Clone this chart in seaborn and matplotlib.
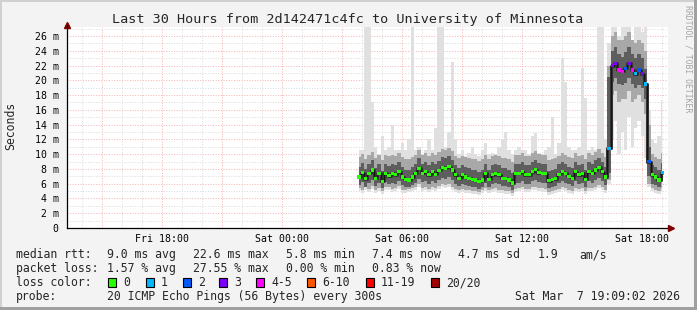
import numpy as np
import pandas as pd
import matplotlib
matplotlib.use("Agg")
import matplotlib.pyplot as plt
import seaborn as sns
from matplotlib.patches import Rectangle
from matplotlib.lines import Line2D
from matplotlib.ticker import MultipleLocator, FixedLocator

# ---------------- data ----------------
title = "Last 30 Hours from 2d142471c4fc to University of Minnesota"
start_minute = 230          # Sat 03:50 (minutes after Sat 00:00)
step_minutes = 10

median_ms = [6.9, 7.5, 6.7, 7.4, 7.85, 6.75, 7.4, 6.3, 7.4, 7.1,
             7.4, 7.2, 7.6, 6.9, 6.6, 6.5, 6.9, 7.4, 8.1, 7.4,
             7.6, 7.2, 7.6, 7.3, 7.8, 8.2, 8.1, 8.3, 7.85, 7.2,
             6.75, 7.2, 6.9, 6.75, 6.6, 6.5, 6.3, 6.5, 7.4, 6.6,
             7.2, 7.4, 7.2, 6.75, 6.75, 6.5, 6.1, 7.4, 7.4, 7.6,
             7.2, 7.2, 7.6, 7.9, 7.5, 7.4, 7.4, 6.4, 6.6, 6.7,
             7.3, 7.6, 7.4, 7.0, 6.75, 7.6, 7.2, 7.4, 6.6, 7.6,
             7.4, 7.85, 8.2, 7.6, 6.9, 10.8, 22.0, 22.3, 21.4, 21.2,
             21.6, 22.3, 21.4, 20.9, 21.4, 20.9, 19.5, 9.0, 7.2, 6.9,
             6.5, 7.5]

lost_pings = [0, 0, 0, 0, 0, 0, 0, 0, 0, 0,
              0, 0, 0, 0, 0, 0, 0, 0, 0, 0,
              0, 0, 0, 0, 0, 0, 0, 0, 0, 0,
              0, 0, 0, 0, 0, 0, 0, 0, 0, 0,
              0, 0, 0, 0, 0, 0, 0, 0, 0, 0,
              0, 0, 0, 0, 0, 0, 0, 0, 0, 0,
              0, 0, 0, 0, 0, 0, 0, 0, 0, 0,
              0, 0, 0, 0, 0, 1, 3, 3, 4, 4,
              2, 3, 4, 1, 2, 3, 1, 2, 0, 0,
              0, 1]

ping_min = [5.0, 4.8, 5.2, 4.9, 5.3, 4.7, 5.0, 4.6, 5.1, 5.2,
            4.9, 5.0, 5.3, 4.8, 4.7, 4.9, 5.0, 5.2, 5.5, 5.0,
            5.1, 4.9, 5.2, 5.0, 5.3, 5.6, 5.4, 5.5, 5.2, 4.9,
            4.8, 4.9, 4.8, 4.7, 4.6, 4.6, 4.5, 4.7, 5.0, 4.7,
            4.9, 5.0, 4.8, 4.7, 4.6, 4.6, 4.4, 4.9, 5.0, 5.1,
            4.9, 4.9, 5.1, 5.2, 5.0, 5.0, 4.9, 4.5, 4.6, 4.7,
            4.9, 5.1, 5.0, 4.8, 4.6, 5.0, 4.9, 5.0, 4.6, 5.0,
            5.0, 5.2, 5.4, 5.1, 4.8, 6.0, 12.0, 14.5, 10.0, 13.0,
            10.5, 15.0, 11.0, 13.5, 14.5, 12.5, 9.5, 5.5, 5.0, 4.8,
            4.6, 5.0]

ping_q10 = [5.4, 5.2, 5.6, 5.3, 5.7, 5.1, 5.4, 5.0, 5.5, 5.6,
            5.3, 5.4, 5.7, 5.2, 5.1, 5.3, 5.4, 5.6, 5.9, 5.4,
            5.5, 5.3, 5.6, 5.4, 5.7, 6.0, 5.8, 5.9, 5.6, 5.3,
            5.2, 5.3, 5.2, 5.1, 5.0, 5.0, 4.9, 5.1, 5.4, 5.1,
            5.3, 5.4, 5.2, 5.1, 5.0, 5.0, 4.8, 5.3, 5.4, 5.5,
            5.3, 5.3, 5.5, 5.6, 5.4, 5.4, 5.3, 4.9, 5.0, 5.1,
            5.3, 5.5, 5.4, 5.2, 5.0, 5.4, 5.3, 5.4, 5.0, 5.4,
            5.4, 5.6, 5.8, 5.5, 5.2, 6.5, 18.0, 18.5, 17.0, 17.5,
            17.5, 18.5, 17.0, 17.5, 18.0, 17.0, 15.5, 6.0, 5.4, 5.2,
            5.0, 5.4]

ping_q25 = [5.8, 6.2, 5.6, 6.1, 6.5, 5.7, 6.1, 5.4, 6.2, 5.9,
            6.1, 6.0, 6.3, 5.8, 5.6, 5.5, 5.8, 6.1, 6.7, 6.2,
            6.3, 6.0, 6.3, 6.1, 6.5, 6.8, 6.7, 6.9, 6.5, 6.0,
            5.7, 6.0, 5.8, 5.7, 5.6, 5.5, 5.3, 5.5, 6.1, 5.6,
            6.0, 6.1, 6.0, 5.7, 5.7, 5.5, 5.2, 6.1, 6.1, 6.3,
            6.0, 6.0, 6.3, 6.5, 6.2, 6.1, 6.1, 5.4, 5.6, 5.7,
            6.1, 6.3, 6.1, 5.9, 5.7, 6.3, 6.0, 6.1, 5.6, 6.3,
            6.1, 6.5, 6.8, 6.3, 5.8, 7.5, 19.8, 20.3, 19.5, 19.4,
            19.7, 20.3, 19.5, 19.0, 19.4, 19.0, 17.5, 7.0, 6.0, 5.8,
            5.5, 6.2]

ping_q75 = [8.3, 8.8, 8.0, 8.7, 9.2, 8.1, 8.7, 7.7, 8.7, 8.4,
            8.7, 8.5, 8.9, 8.2, 7.9, 7.8, 8.2, 8.7, 9.5, 8.7,
            8.9, 8.5, 8.9, 8.6, 9.1, 9.6, 9.5, 9.7, 9.2, 8.5,
            8.1, 8.5, 8.2, 8.1, 7.9, 7.8, 7.6, 7.8, 8.7, 7.9,
            8.5, 8.7, 8.5, 8.1, 8.1, 7.8, 7.4, 8.7, 8.7, 8.9,
            8.5, 8.5, 8.9, 9.2, 8.8, 8.7, 8.7, 7.7, 7.9, 8.0,
            8.6, 8.9, 8.7, 8.3, 8.1, 8.9, 8.5, 8.7, 7.9, 8.9,
            8.7, 9.2, 9.5, 8.9, 8.2, 20.5, 24.0, 24.5, 23.5, 23.2,
            23.8, 24.5, 23.5, 23.0, 23.5, 23.0, 21.5, 11.0, 8.5, 8.2,
            7.8, 8.8]

ping_q90 = [9.6, 10.0, 9.4, 9.9, 10.3, 9.5, 9.9, 9.2, 9.9, 9.7,
            9.9, 9.8, 10.1, 9.6, 9.4, 9.3, 9.6, 9.9, 10.6, 9.9,
            10.1, 9.8, 10.1, 9.9, 10.3, 10.7, 10.6, 10.8, 10.4, 9.8,
            9.5, 9.8, 9.6, 9.5, 9.4, 9.3, 9.1, 9.3, 9.9, 9.4,
            9.8, 9.9, 9.8, 9.5, 9.5, 9.3, 9.0, 9.9, 9.9, 10.1,
            9.8, 9.8, 10.1, 10.4, 10.0, 9.9, 9.9, 9.2, 9.4, 9.5,
            9.8, 10.1, 9.9, 9.6, 9.5, 10.1, 9.8, 9.9, 9.4, 10.1,
            9.9, 10.3, 10.7, 10.1, 9.6, 22.0, 26.0, 26.5, 25.5, 25.5,
            26.0, 26.5, 25.5, 25.0, 25.5, 25.0, 24.0, 14.0, 10.0, 9.6,
            9.4, 10.2]

ping_max = [10.5, 10.5, 27.5, 27.5, 17.0, 11.0, 10.0, 12.5, 10.5, 11.0,
            14.0, 10.5, 10.5, 11.5, 10.5, 12.0, 27.5, 10.5, 11.0, 10.0,
            10.5, 12.0, 10.5, 13.5, 27.5, 27.5, 11.0, 13.0, 22.5, 12.0,
            10.0, 10.5, 9.8, 10.2, 11.0, 10.0, 9.8, 10.5, 11.5, 10.0,
            10.2, 10.0, 11.0, 12.0, 13.0, 10.5, 10.0, 10.5, 11.0, 10.5,
            10.5, 10.0, 12.5, 12.8, 10.2, 10.0, 10.5, 11.0, 15.0, 10.0,
            11.5, 23.0, 19.8, 11.0, 10.5, 10.5, 11.0, 21.6, 17.6, 10.5,
            11.0, 10.5, 27.5, 27.5, 12.0, 25.0, 27.5, 27.5, 26.0, 27.5,
            27.5, 27.5, 25.5, 27.5, 27.5, 26.5, 27.5, 16.0, 12.0, 11.5,
            12.5, 17.3]

loss_labels = ["0", "1", "2", "3", "4-5", "6-10", "11-19", "20/20"]
loss_colors = ["#26ff00", "#00b8ff", "#0059ff", "#7e00ff", "#ff00ff",
               "#ff5500", "#ff0000", "#a00000"]
loss_upper = [0, 1, 2, 3, 5, 10, 19, 20]

xtick_hours = [-9, -6, -3, 0, 3, 6, 9, 12, 15, 18]
xtick_labels = ["", "Fri 18:00", "", "Sat 00:00", "", "Sat 06:00", "",
                "Sat 12:00", "", "Sat 18:00"]
ytick_values = [0, 2, 4, 6, 8, 10, 12, 14, 16, 18, 20, 22, 24, 26]
ytick_labels = ["0", "2 m", "4 m", "6 m", "8 m", "10 m", "12 m", "14 m",
                "16 m", "18 m", "20 m", "22 m", "24 m", "26 m"]

stats_rtt = [("median rtt:", 16), ("9.0 ms avg", 107.3), ("22.6 ms max", 193.3),
             ("5.8 ms min", 286), ("7.4 ms now", 372.3), ("4.7 ms sd", 458.3),
             ("1.9", 537.3), ("am/s", 579.3)]
stats_loss = [("packet loss:", 16), ("1.57 % avg", 107.3), ("27.55 % max", 193.3),
              ("0.00 % min", 286), ("0.83 % now", 372.3)]
probe_text = "20 ICMP Echo Pings (56 Bytes) every 300s"
stamp_text = "Sat Mar  7 19:09:02 2026"

# ---------------- build frame ----------------
n = len(median_ms)
hours = (start_minute + step_minutes * np.arange(n)) / 60.0


def loss_bucket(v):
    for lab, up in zip(loss_labels, loss_upper):
        if v <= up:
            return lab
    return loss_labels[-1]


df = pd.DataFrame({"h": hours, "med": median_ms, "loss": lost_pings,
                   "pmin": ping_min, "q10": ping_q10, "q25": ping_q25,
                   "q75": ping_q75, "q90": ping_q90, "pmax": ping_max})
df["bucket"] = df["loss"].apply(loss_bucket)

# ---------------- figure ----------------
sns.set_theme(style="white")
plt.rcParams["font.family"] = ["DejaVu Sans Mono", "DejaVu Sans"]

W, H = 697, 310
fig = plt.figure(figsize=(W / 100, H / 100), dpi=100)
fig.patch.set_facecolor("#f3f3f3")


def fx(px):
    return px / W


def fy(py):
    return 1 - py / H


ax_l, ax_r, ax_t, ax_b = 66.5, 668.0, 26.5, 228.0
ax = fig.add_axes([fx(ax_l), fy(ax_b), (ax_r - ax_l) / W, (ax_b - ax_t) / H])
ax.set_facecolor("white")

px_per_hour = 20.0
sat0_px = 282.3
ax.set_xlim((ax_l - sat0_px) / px_per_hour, (ax_r - sat0_px) / px_per_hour)
px_per_ms = 7.385
ax.set_ylim(0, (ax_b - ax_t) / px_per_ms)

# grid
ax.set_axisbelow(True)
ax.xaxis.set_major_locator(FixedLocator(xtick_hours))
ax.xaxis.set_minor_locator(MultipleLocator(1))
ax.yaxis.set_major_locator(FixedLocator(ytick_values))
ax.yaxis.set_minor_locator(MultipleLocator(1))
ax.set_xticklabels(xtick_labels)
ax.set_yticklabels(ytick_labels)
ax.grid(which="major", color="#f6b4b4", linestyle=(0, (1, 1.6)), linewidth=0.72)
ax.grid(which="minor", color="#dcdcdc", linestyle=(0, (1, 1.6)), linewidth=0.72)
ax.tick_params(axis="both", which="both", direction="out", length=2,
               width=0.72, labelsize=7.1, colors="black")
ax.tick_params(axis="x", which="major", color="#f2a0a0", pad=2)
ax.tick_params(axis="x", which="minor", color="#d2d2d2")
ax.tick_params(axis="y", which="major", color="#f2a0a0", pad=3.5)
ax.tick_params(axis="y", which="minor", length=0)
for s in ["top", "right"]:
    ax.spines[s].set_visible(False)
for s in ["left", "bottom"]:
    ax.spines[s].set_color("black")
    ax.spines[s].set_linewidth(0.9)

# smoke
ax.fill_between(df["h"], df["pmin"], df["pmax"], step="mid",
                color="#e0e0e0", linewidth=0)
ax.fill_between(df["h"], df["q10"], df["q90"], step="mid",
                color="#a8a8a8", linewidth=0)
ax.fill_between(df["h"], df["q25"], df["q75"], step="mid",
                color="#5e5e5e", linewidth=0)

# dense core + median line and loss-coloured markers
sns.lineplot(data=df, x="h", y="med", ax=ax, color="#383838", linewidth=2.2,
             drawstyle="steps-mid", estimator=None, legend=False)
sns.lineplot(data=df, x="h", y="med", ax=ax, color="#141414", linewidth=0.9,
             drawstyle="steps-mid", estimator=None, legend=False)
sns.scatterplot(data=df, x="h", y="med", hue="bucket", ax=ax,
                palette=dict(zip(loss_labels, loss_colors)), marker="s",
                s=5, linewidth=0, legend=False, zorder=5)
ax.set_xlabel("")
ax.set_ylabel("")

# axis arrows
arrow_col = "#7f0000"
fig.add_artist(Line2D([fx(ax_l)], [fy(24.5)], marker="^", markersize=4.5,
                      color=arrow_col, transform=fig.transFigure))
fig.add_artist(Line2D([fx(ax_l), fx(ax_l)], [fy(ax_t), fy(25)], color="black",
                      linewidth=0.9, transform=fig.transFigure))
fig.add_artist(Line2D([fx(ax_r), fx(670)], [fy(ax_b), fy(ax_b)], color="black",
                      linewidth=0.9, transform=fig.transFigure))
fig.add_artist(Line2D([fx(670.5)], [fy(ax_b)], marker=">", markersize=4.5,
                      color=arrow_col, transform=fig.transFigure))

# texts
fig.text(fx(348), fy(19), title, fontsize=9.7, ha="center", va="center")
fig.text(fx(10.5), fy(126), "Seconds", rotation=90, fontsize=8.3,
         ha="center", va="center")
fig.text(fx(688), fy(59), "RRDTOOL / TOBI OETIKER", rotation=270,
         fontsize=5.9, color="#a4a4a4", ha="center", va="center")

leg_fs = 8.3
for txt, x in stats_rtt:
    fig.text(fx(x), fy(254.5), txt, fontsize=leg_fs, ha="left", va="center")
for txt, x in stats_loss:
    fig.text(fx(x), fy(268.5), txt, fontsize=leg_fs, ha="left", va="center")
fig.text(fx(16), fy(282.5), "loss color:", fontsize=leg_fs, ha="left", va="center")
box_x = [108.3, 145.7, 182.7, 219.3, 256.0, 307.0, 365.7, 430.7]
for bx, lab, col in zip(box_x, loss_labels, loss_colors):
    fig.add_artist(Rectangle((fx(bx), fy(286.5)), 8 / W, 9 / H,
                             facecolor=col, edgecolor="black", linewidth=0.8,
                             transform=fig.transFigure))
    fig.text(fx(bx + 15), fy(282.5), lab, fontsize=leg_fs, ha="left", va="center")
fig.text(fx(16), fy(296.5), "probe:", fontsize=leg_fs, ha="left", va="center")
fig.text(fx(107.3), fy(296.5), probe_text, fontsize=leg_fs, ha="left", va="center")
fig.text(fx(680), fy(296.5), stamp_text, fontsize=leg_fs, ha="right", va="center")

# 3-D style frame
fig.add_artist(Rectangle((0, fy(2)), 1, 2 / H, facecolor="#d0d0d0",
                         edgecolor="none", transform=fig.transFigure))
fig.add_artist(Rectangle((0, 0), 2 / W, 1, facecolor="#d0d0d0",
                         edgecolor="none", transform=fig.transFigure))
fig.add_artist(Rectangle((0, 0), 1, 3 / H, facecolor="#a0a0a0",
                         edgecolor="none", transform=fig.transFigure))
fig.add_artist(Rectangle((fx(694), 0), 3 / W, 1, facecolor="#a0a0a0",
                         edgecolor="none", transform=fig.transFigure))

fig.savefig("out.png", dpi=100, facecolor=fig.get_facecolor())
